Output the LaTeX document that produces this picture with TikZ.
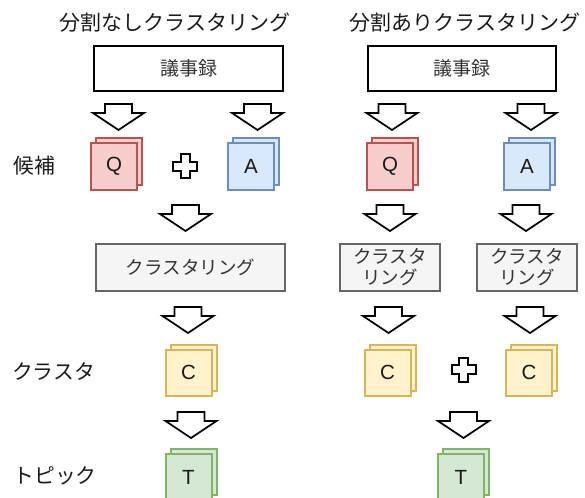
\documentclass[tikz,border=0pt]{standalone}
\usepackage{fontspec}
\newfontfamily\jp{Noto Sans CJK JP}
\newfontfamily\lat{Liberation Sans}
\definecolor{qfill}{HTML}{F8CECC}\definecolor{qdraw}{HTML}{B85450}
\definecolor{afill}{HTML}{DAE8FC}\definecolor{adraw}{HTML}{6C8EBF}
\definecolor{cfill}{HTML}{FFF2CC}\definecolor{cdraw}{HTML}{D6B656}
\definecolor{tfill}{HTML}{D5E8D4}\definecolor{tdraw}{HTML}{82B366}
\definecolor{gfill}{HTML}{F5F5F5}\definecolor{gdraw}{HTML}{666666}
\definecolor{gtext}{HTML}{333333}
\definecolor{ink}{HTML}{1A1A1A}
\tikzset{
  cardsq/.style={draw, line width=2pt, minimum size=46pt, inner sep=0pt,
    font=\lat\fontsize{20.5}{24}\selectfont, text=ink},
  docbox/.style={draw=black, fill=white, line width=2pt, inner sep=0pt,
    font=\jp\fontsize{19}{22}\selectfont, text=gtext},
  clbox/.style={draw=gdraw, fill=gfill, line width=2pt, inner sep=0pt, align=center,
    font=\jp\fontsize{18.5}{21}\selectfont, text=gtext},
  titletext/.style={font=\jp\fontsize{21}{24}\selectfont, text=ink, inner sep=0pt},
  sidelabel/.style={font=\jp\fontsize{20.8}{24}\selectfont, text=ink, inner sep=0pt},
  blockarrow/.pic={\draw[line width=1.7pt, fill=white, line join=miter]
     (-13.5,0) -- (13.5,0) -- (13.5,9) -- (25.5,9) -- (0,26) -- (-25.5,9) -- (-13.5,9) -- cycle;},
  plussign/.pic={\draw[line width=2pt, fill=white, line join=miter]
     (-4.5,-12) -- (4.5,-12) -- (4.5,-4.5) -- (12,-4.5) -- (12,4.5) -- (4.5,4.5) -- (4.5,12)
     -- (-4.5,12) -- (-4.5,4.5) -- (-12,4.5) -- (-12,-4.5) -- (-4.5,-4.5) -- cycle;},
}
\newcommand\card[6]{%
  \node[cardsq, fill=#4, draw=#5] (#1b) at (#2+5,#3-5) {};
  \node[cardsq, fill=#4, draw=#5] (#1) at (#2,#3) {#6};
}
\begin{document}
\begin{tikzpicture}[x=1pt,y=-1pt]
\useasboundingbox (0,0) rectangle (585,497);
% titles
\node[titletext] (t1) at (175,23) {分割なしクラスタリング};
\node[titletext] (t2) at (465,23) {分割ありクラスタリング};
% side labels
\node[sidelabel] (l1) at (34,166) {候補};
\node[sidelabel] (l2) at (53.5,371) {クラスタ};
\node[sidelabel] (l3) at (55,476) {トピック};
% minutes boxes
\node[docbox, minimum width=189pt, minimum height=45pt] (d1) at (188.5,68.5) {議事録};
\node[docbox, minimum width=188pt, minimum height=45pt] (d2) at (462,68.5) {議事録};
% arrows row 1
\pic at (118.5,104) {blockarrow};
\pic at (257.5,104) {blockarrow};
\pic at (392,104) {blockarrow};
\pic at (531,104) {blockarrow};
% candidate cards
\card{q1}{114}{166.5}{qfill}{qdraw}{Q}
\card{a1}{251}{166.5}{afill}{adraw}{A}
\card{q2}{390}{166.5}{qfill}{qdraw}{Q}
\card{a2}{527}{166.5}{afill}{adraw}{A}
\pic at (185,166) {plussign};
% arrows row 2
\pic at (185.5,205) {blockarrow};
\pic at (390,205) {blockarrow};
\pic at (526,205) {blockarrow};
% clustering boxes
\node[clbox, minimum width=189pt, minimum height=47pt] (k1) at (190.5,267.5) {クラスタリング};
\node[clbox, minimum width=100pt, minimum height=47pt] (k2) at (390,267.5) {クラスタ\\リング};
\node[clbox, minimum width=100pt, minimum height=47pt] (k3) at (527,267.5) {クラスタ\\リング};
% arrows row 3
\pic at (188,307) {blockarrow};
\pic at (388.5,307) {blockarrow};
\pic at (530,307) {blockarrow};
% cluster cards
\card{c1}{188.5}{372.5}{cfill}{cdraw}{C}
\card{c2}{387.5}{372.5}{cfill}{cdraw}{C}
\card{c3}{529}{372.5}{cfill}{cdraw}{C}
\pic at (463.5,369.5) {plussign};
% arrows row 4
\pic at (191,412) {blockarrow};
\pic at (463.5,412) {blockarrow};
% topic cards
\card{tp1}{188.5}{477}{tfill}{tdraw}{T}
\card{tp2}{461}{477}{tfill}{tdraw}{T}
\end{tikzpicture}
\end{document}
